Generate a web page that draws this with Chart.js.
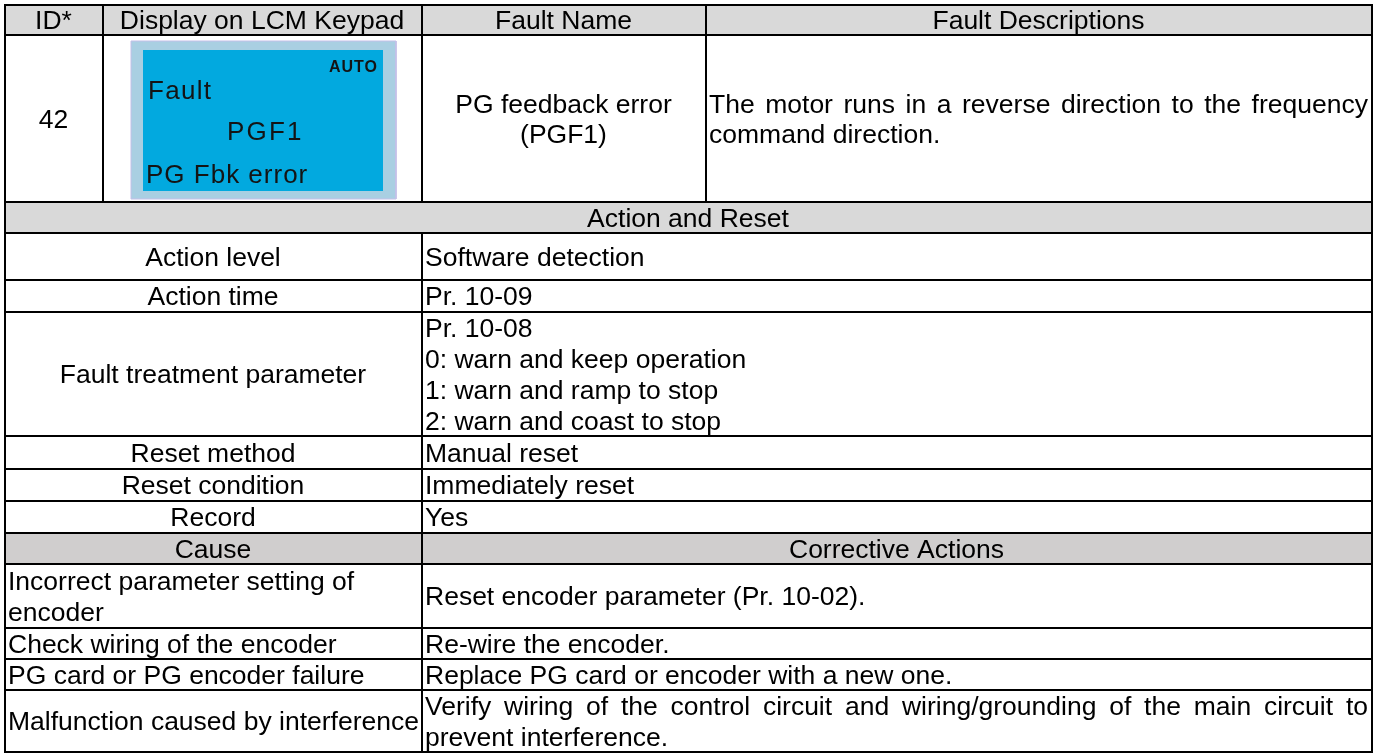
<!DOCTYPE html>
<html>
<head>
<meta charset="utf-8">
<script src="https://cdn.jsdelivr.net/npm/chart.js@4.4.1/dist/chart.umd.min.js"></script>
<style>
  html, body { margin: 0; padding: 0; background: #ffffff; }
  #wrap { width: 1384px; height: 756px; position: relative; }
</style>
</head>
<body>
<div id="wrap"><canvas id="c"></canvas></div>
<script>
// ---------------- DATA (table content) ----------------
const headerLabels = ["ID*", "Display on LCM Keypad", "Fault Name", "Fault Descriptions"];
const faultId = "42";
const lcmAutoLabel = "AUTO";
const lcmLines = ["Fault", "PGF1", "PG Fbk error"];
const faultName = ["PG feedback error", "(PGF1)"];
const faultDescription = ["The motor runs in a reverse direction to the frequency", "command direction."];
const sectionTitle = "Action and Reset";
const actionItems = ["Action level", "Action time", "Fault treatment parameter", "Reset method", "Reset condition", "Record"];
const actionValues = [
  ["Software detection"],
  ["Pr. 10-09"],
  ["Pr. 10-08", "0: warn and keep operation", "1: warn and ramp to stop", "2: warn and coast to stop"],
  ["Manual reset"],
  ["Immediately reset"],
  ["Yes"]
];
const causeHeaders = ["Cause", "Corrective Actions"];
const causes = [
  ["Incorrect parameter setting of", "encoder"],
  ["Check wiring of the encoder"],
  ["PG card or PG encoder failure"],
  ["Malfunction caused by interference"]
];
const correctiveActions = [
  ["Reset encoder parameter (Pr. 10-02)."],
  ["Re-wire the encoder."],
  ["Replace PG card or encoder with a new one."],
  ["Verify wiring of the control circuit and wiring/grounding of the main circuit to", "prevent interference."]
];

// ---------------- LAYOUT (positions in scale units) ----------------
const colEdges = [5, 103, 422, 706, 1372];          // table column boundaries
const rowEdges = [5, 35, 202, 233, 280, 312, 436, 469, 501, 533, 564, 628, 659, 690, 752];
const lcmOuter = { x0: 131, x1: 396, y0: 41, y1: 199 };
const lcmInner = { x0: 143, x1: 383, y0: 50, y1: 191 };
const lcmText = [
  { x: 148, y: 99, align: "left", spacing: 1.3 },
  { x: 227, y: 140, align: "left", spacing: 2.2 },
  { x: 146, y: 183, align: "left", spacing: 1.0 }
];
const lcmAutoPos = { x: 378, y: 71.5 };

// ---------------- STYLE ----------------
const FONT_FAMILY = '"Liberation Sans", Arial, sans-serif';
const FONT_SIZE = 26.5;
const LINE_H = 30.8;
const CAP_H = FONT_SIZE * 0.716;
const PAD = 3;
const GRID = "#000000";
const HEAD_FILL = "#d9d9d9";
const CAUSE_FILL = "#d0cece";

// ---------------- BUILD DATASETS ----------------
const L = colEdges[0], R = colEdges[colEdges.length - 1];
const T = rowEdges[0], B = rowEdges[rowEdges.length - 1];
const datasets = [];

function segment(x0, y0, x1, y1, color, width) {
  datasets.push({
    type: "line", data: [{ x: x0, y: y0 }, { x: x1, y: y1 }],
    borderColor: color, borderWidth: width, borderCapStyle: "square",
    pointRadius: 0, fill: false, tension: 0, order: 0
  });
}
function rect(r, color, order) {
  datasets.push({
    type: "line", data: [{ x: r.x0, y: r.y0 }, { x: r.x1, y: r.y0 }],
    borderWidth: 0, borderColor: "rgba(0,0,0,0)", backgroundColor: color,
    pointRadius: 0, fill: { value: r.y1 }, tension: 0, order: order
  });
}
// gray fills
rect({ x0: L, x1: R, y0: rowEdges[0], y1: rowEdges[1] }, HEAD_FILL, 5);
rect({ x0: L, x1: R, y0: rowEdges[2], y1: rowEdges[3] }, HEAD_FILL, 5);
rect({ x0: L, x1: R, y0: rowEdges[9], y1: rowEdges[10] }, CAUSE_FILL, 5);
// LCM panel
rect(lcmOuter, "#a9cfe2", 4);
datasets.push({
  type: "line",
  data: [{ x: lcmOuter.x0, y: lcmOuter.y0 }, { x: lcmOuter.x1, y: lcmOuter.y0 }, { x: lcmOuter.x1, y: lcmOuter.y1 },
         { x: lcmOuter.x0, y: lcmOuter.y1 }, { x: lcmOuter.x0, y: lcmOuter.y0 }],
  borderColor: "#c4bfe8", borderWidth: 1, pointRadius: 0, fill: false, tension: 0, order: 3
});
rect(lcmInner, "#02a9df", 2);

// horizontal rules
rowEdges.forEach(yv => segment(L, yv, R, yv, GRID, 2));
// vertical rules
segment(L, T, L, B, GRID, 2);
segment(R, T, R, B, GRID, 2);
segment(colEdges[1], rowEdges[0], colEdges[1], rowEdges[2], GRID, 2);
segment(colEdges[2], rowEdges[0], colEdges[2], rowEdges[2], GRID, 2);
segment(colEdges[2], rowEdges[3], colEdges[2], B, GRID, 2);
segment(colEdges[3], rowEdges[0], colEdges[3], rowEdges[2], GRID, 2);

// ---------------- TEXT CELLS ----------------
const cells = [];
function cell(lines, x0, x1, y0, y1, align) { cells.push({ lines, x0, x1, y0, y1, align }); }
headerLabels.forEach((h, i) => cell([h], colEdges[i], colEdges[i + 1], rowEdges[0], rowEdges[1], "center"));
cell([faultId], colEdges[0], colEdges[1], rowEdges[1], rowEdges[2], "center");
cell(faultName, colEdges[2], colEdges[3], rowEdges[1], rowEdges[2], "center");
cell(faultDescription, colEdges[3], colEdges[4], rowEdges[1], rowEdges[2], "justify");
cell([sectionTitle], L, R, rowEdges[2], rowEdges[3], "center");
actionItems.forEach((a, i) => {
  cell([a], L, colEdges[2], rowEdges[3 + i], rowEdges[4 + i], "center");
  cell(actionValues[i], colEdges[2], R, rowEdges[3 + i], rowEdges[4 + i], "left");
});
cell([causeHeaders[0]], L, colEdges[2], rowEdges[9], rowEdges[10], "center");
cell([causeHeaders[1]], colEdges[2], R, rowEdges[9], rowEdges[10], "center");
causes.forEach((c, i) => {
  cell(c, L, colEdges[2], rowEdges[10 + i], rowEdges[11 + i], "left");
  cell(correctiveActions[i], colEdges[2], R, rowEdges[10 + i], rowEdges[11 + i], "justify");
});

const textPlugin = {
  id: "tableText",
  afterDatasetsDraw(chart) {
    const ctx = chart.ctx;
    const sx = chart.scales.x, sy = chart.scales.y;
    ctx.save();
    ctx.fillStyle = "#000000";
    ctx.textBaseline = "alphabetic";
    ctx.font = FONT_SIZE + "px " + FONT_FAMILY;
    cells.forEach(c => {
      const n = c.lines.length;
      const cy = (c.y0 + c.y1) / 2;
      c.lines.forEach((line, i) => {
        const by = sy.getPixelForValue(cy + (i - (n - 1) / 2) * LINE_H + CAP_H / 2);
        const px0 = sx.getPixelForValue(c.x0) + PAD, px1 = sx.getPixelForValue(c.x1) - PAD - 1;
        if (c.align === "center") {
          ctx.textAlign = "center";
          ctx.fillText(line, (px0 + px1) / 2, by);
        } else if (c.align === "justify" && i < n - 1) {
          const words = line.split(" ");
          const total = words.reduce((s, w) => s + ctx.measureText(w).width, 0);
          const gap = (px1 - px0 - total) / (words.length - 1);
          ctx.textAlign = "left";
          let xx = px0;
          words.forEach(w => { ctx.fillText(w, xx, by); xx += ctx.measureText(w).width + gap; });
        } else {
          ctx.textAlign = "left";
          ctx.fillText(line, px0, by);
        }
      });
    });
    // LCM display text
    ctx.fillStyle = "#141414";
    ctx.textAlign = "left";
    ctx.font = "26px " + FONT_FAMILY;
    lcmLines.forEach((t, i) => {
      const p = lcmText[i];
      ctx.letterSpacing = p.spacing + "px";
      ctx.fillText(t, sx.getPixelForValue(p.x), sy.getPixelForValue(p.y));
    });
    ctx.font = "bold 16px " + FONT_FAMILY;
    ctx.letterSpacing = "1px";
    ctx.textAlign = "right";
    ctx.fillText(lcmAutoLabel, sx.getPixelForValue(lcmAutoPos.x), sy.getPixelForValue(lcmAutoPos.y));
    ctx.letterSpacing = "0px";
    ctx.restore();
  }
};

new Chart(document.getElementById("c"), {
  type: "scatter",
  data: { datasets },
  options: {
    responsive: true, maintainAspectRatio: false, animation: false,
    layout: { padding: 0 },
    plugins: { legend: { display: false }, tooltip: { enabled: false } },
    events: [],
    scales: {
      x: { type: "linear", min: 0, max: 1384, display: false },
      y: { type: "linear", min: 0, max: 756, reverse: true, display: false }
    },
    elements: { line: { tension: 0 } },
    showLine: true
  },
  plugins: [textPlugin]
});
</script>
</body>
</html>
